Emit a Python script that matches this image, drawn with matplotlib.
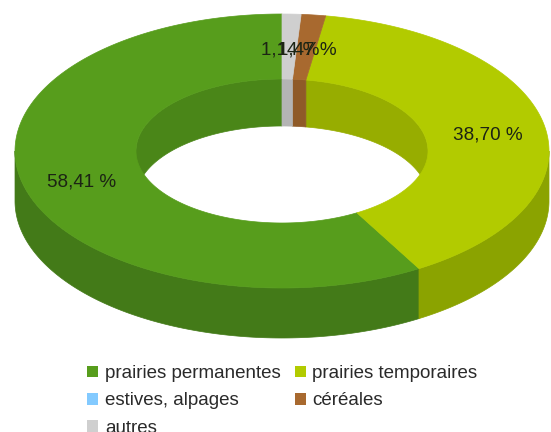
import numpy as np
import matplotlib
matplotlib.use("Agg")
import matplotlib.pyplot as plt
from matplotlib.patches import Patch

categories = ["prairies permanentes", "prairies temporaires", "estives, alpages", "céréales", "autres"]
values = [58.41, 38.70, 0.0, 1.47, 1.14]
labels = ["58,41 %", "38,70 %", "", "1,47 %", "1,14 %"]
top_colors = ["#579d1c", "#b2cb00", "#83caff", "#a8692f", "#cfcfcf"]
outer_wall_colors = ["#437a18", "#8ba300", "#66a0cc", "#85501f", "#a5a5a5"]
inner_wall_colors = ["#4a8618", "#97ad00", "#70acdc", "#8f5a28", "#b4b4b4"]

CX, CY = 282, 151
RX_O, RY_O = 267, 137
RX_I, RY_I = 146, 72
DEPTH_O = 50
DEPTH_I = 47

plt.rcParams["font.family"] = ["Liberation Sans", "DejaVu Sans"]
fig = plt.figure(figsize=(5.51, 4.32), dpi=100)
ax = fig.add_axes([0, 0, 1, 1])
ax.set_xlim(0, 551)
ax.set_ylim(432, 0)
ax.axis("off")


def arc(t1, t2, rx, ry, dy=0, n=200):
    # t: degrees counter-clockwise from the top of the ring
    t = np.radians(np.linspace(t1, t2, n))
    return CX - rx * np.sin(t), CY - ry * np.cos(t) + dy


shares = np.array(values) / sum(values) * 360
starts = np.concatenate([[0], np.cumsum(shares)[:-1]])
ends = starts + shares

# inner back wall (upper half of the hole)
for s, e, c in zip(starts, ends, inner_wall_colors):
    if e > s:
        for lo, hi in [(s, min(e, 90)), (max(s, 270), e)]:
            if hi > lo:
                x1, y1 = arc(lo, hi, RX_I, RY_I)
                x2, y2 = arc(hi, lo, RX_I, RY_I, DEPTH_I)
                ax.fill(np.r_[x1, x2], np.r_[y1, y2], color=c, lw=0.5, zorder=1)

# outer front wall (lower half of the ring)
for s, e, c in zip(starts, ends, outer_wall_colors):
    lo, hi = max(s, 90), min(e, 270)
    if hi > lo:
        x1, y1 = arc(lo, hi, RX_O, RY_O)
        x2, y2 = arc(hi, lo, RX_O, RY_O, DEPTH_O)
        ax.fill(np.r_[x1, x2], np.r_[y1, y2], color=c, lw=0.5, zorder=2)

# top face
for s, e, c, lab in zip(starts, ends, top_colors, labels):
    if e > s:
        x1, y1 = arc(s, e, RX_O, RY_O)
        x2, y2 = arc(e, s, RX_I, RY_I)
        ax.fill(np.r_[x1, x2], np.r_[y1, y2], color=c, lw=0.5, zorder=3)
    if lab:
        m = (s + e) / 2
        lx, ly = arc(m, m, (RX_O + RX_I) / 2 + 2, (RY_O + RY_I) / 2, n=1)
        ax.text(lx[0] + 1, ly[0] + 3, lab, ha="center", va="center", fontsize=13.6,
                color="#1c2414", zorder=5)

order = [0, 2, 4, 1, 3]
handles = [Patch(facecolor=top_colors[i], edgecolor="none", label=categories[i]) for i in order]
ax.legend(handles=handles, ncols=2, loc="upper left", bbox_to_anchor=(87 / 551, 1 - 365 / 432),
          bbox_transform=fig.transFigure, frameon=False, fontsize=13.5, handlelength=0.58,
          handleheight=0.58, handletextpad=0.37, columnspacing=0.75, labelspacing=0.55,
          borderpad=0, borderaxespad=0, labelcolor="#2a2a2a")

fig.savefig("out.png", dpi=100)
